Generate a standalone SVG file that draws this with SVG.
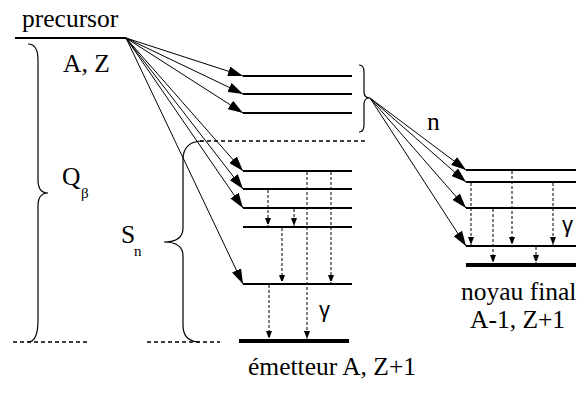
<svg xmlns="http://www.w3.org/2000/svg" width="579" height="404" viewBox="0 0 579 404">
<style>
text{font-family:'Liberation Serif','Times New Roman',serif;fill:#000}
.t{font-size:25.5px}
.s{font-size:15px}
.g{font-family:'Liberation Sans',sans-serif;font-size:22px}
.lv{stroke:#000;stroke-width:1.8;fill:none}
.gd{stroke:#000;stroke-width:4;fill:none}
.ar{stroke:#000;stroke-width:1;fill:none;marker-end:url(#ah)}
.da{stroke:#000;stroke-width:1;stroke-dasharray:3,2;fill:none;marker-end:url(#sh)}
.br{stroke:#000;stroke-width:1.2;fill:none}
.dt{stroke:#000;stroke-width:1.3;stroke-dasharray:4,3;fill:none}
</style>
<defs>
<marker id="ah" markerWidth="15" markerHeight="10" refX="15" refY="5" orient="auto" markerUnits="userSpaceOnUse"><path d="M0,0 L15,5 L0,10 z" fill="#000"/></marker>
<marker id="sh" markerWidth="6" markerHeight="8" refX="8" refY="3" orient="auto" markerUnits="userSpaceOnUse"><path d="M0,0 L8,3 L0,6 z" fill="#000"/></marker>
</defs>

<g id="precursor">
<line class="lv" x1="15" y1="38" x2="126" y2="38"/>
<text class="t" x="22" y="27">precursor</text>
<text class="t" x="63" y="72">A, Z</text>
</g>

<g id="q-beta">
<path class="br" d="M28,44 Q38,44 38,60 L38,180 Q38,193 48,193 Q38,193 38,206 L38,320 Q38,342 28,342"/>
<text class="t" x="62" y="185">Q</text>
<text class="s" x="81" y="198">β</text>
<line class="dt" x1="13" y1="342" x2="88" y2="342"/>
</g>

<g id="sn">
<path class="br" d="M203,141 Q183,141 183,160 L183,228 Q183,242 164,242 Q183,242 183,256 L183,325 Q183,342 200,342"/>
<text class="t" x="121" y="243">S</text>
<text class="s" x="134" y="256">n</text>
<line class="dt" x1="147" y1="342" x2="220" y2="342"/>
<line class="dt" x1="200" y1="141" x2="368" y2="141"/>
</g>

<g id="upper-levels">
<line class="lv" x1="243" y1="76" x2="352" y2="76"/>
<line class="lv" x1="243" y1="94" x2="352" y2="94"/>
<line class="lv" x1="243" y1="113" x2="352" y2="113"/>
<path class="br" d="M359,65 Q364,65 364,72 L364,92 Q364,98 370,98 Q364,98 364,104 L364,125 Q364,132 359,132"/>
<text class="t" x="427" y="130">n</text>
</g>

<g id="emetteur">
<line class="lv" x1="243" y1="171" x2="352" y2="171"/>
<line class="lv" x1="243" y1="189" x2="352" y2="189"/>
<line class="lv" x1="243" y1="208" x2="352" y2="208"/>
<line class="lv" x1="243" y1="227" x2="352" y2="227"/>
<line class="lv" x1="243" y1="284" x2="352" y2="284"/>
<line class="gd" x1="239" y1="341" x2="349" y2="341"/>
<text class="g" x="319" y="317">γ</text>
<text class="t" x="248" y="375">émetteur A, Z+1</text>
</g>

<g id="noyau-final">
<line class="lv" x1="466" y1="170" x2="576" y2="170"/>
<line class="lv" x1="466" y1="182" x2="576" y2="182"/>
<line class="lv" x1="466" y1="208" x2="576" y2="208"/>
<line class="lv" x1="466" y1="246" x2="576" y2="246"/>
<line class="gd" x1="466" y1="265" x2="576" y2="265"/>
<text class="g" x="562" y="232">γ</text>
<text class="t" x="461" y="300">noyau final</text>
<text class="t" x="470" y="328">A-1, Z+1</text>
</g>

<g id="connectors">
<line class="ar" x1="126" y1="38" x2="243" y2="76"/>
<line class="ar" x1="126" y1="38" x2="243" y2="94"/>
<line class="ar" x1="126" y1="38" x2="243" y2="113"/>
<line class="ar" x1="126" y1="38" x2="243" y2="171"/>
<line class="ar" x1="126" y1="38" x2="243" y2="189"/>
<line class="ar" x1="126" y1="38" x2="243" y2="208"/>
<line class="ar" x1="126" y1="38" x2="243" y2="284"/>
<line class="ar" x1="370" y1="98" x2="466" y2="170"/>
<line class="ar" x1="370" y1="98" x2="466" y2="182"/>
<line class="ar" x1="370" y1="98" x2="466" y2="208"/>
<line class="ar" x1="370" y1="98" x2="466" y2="246"/>
<line class="da" x1="307" y1="172" x2="307" y2="339"/>
<line class="da" x1="331" y1="172" x2="331" y2="283"/>
<line class="da" x1="268" y1="190" x2="268" y2="226"/>
<line class="da" x1="294" y1="209" x2="294" y2="226"/>
<line class="da" x1="282" y1="228" x2="282" y2="283"/>
<line class="da" x1="269" y1="285" x2="269" y2="339"/>
<line class="da" x1="512" y1="171" x2="512" y2="245"/>
<line class="da" x1="553" y1="183" x2="553" y2="245"/>
<line class="da" x1="471" y1="183" x2="471" y2="245"/>
<line class="da" x1="493" y1="209" x2="493" y2="263"/>
<line class="da" x1="536" y1="247" x2="536" y2="263"/>
</g>
</svg>
